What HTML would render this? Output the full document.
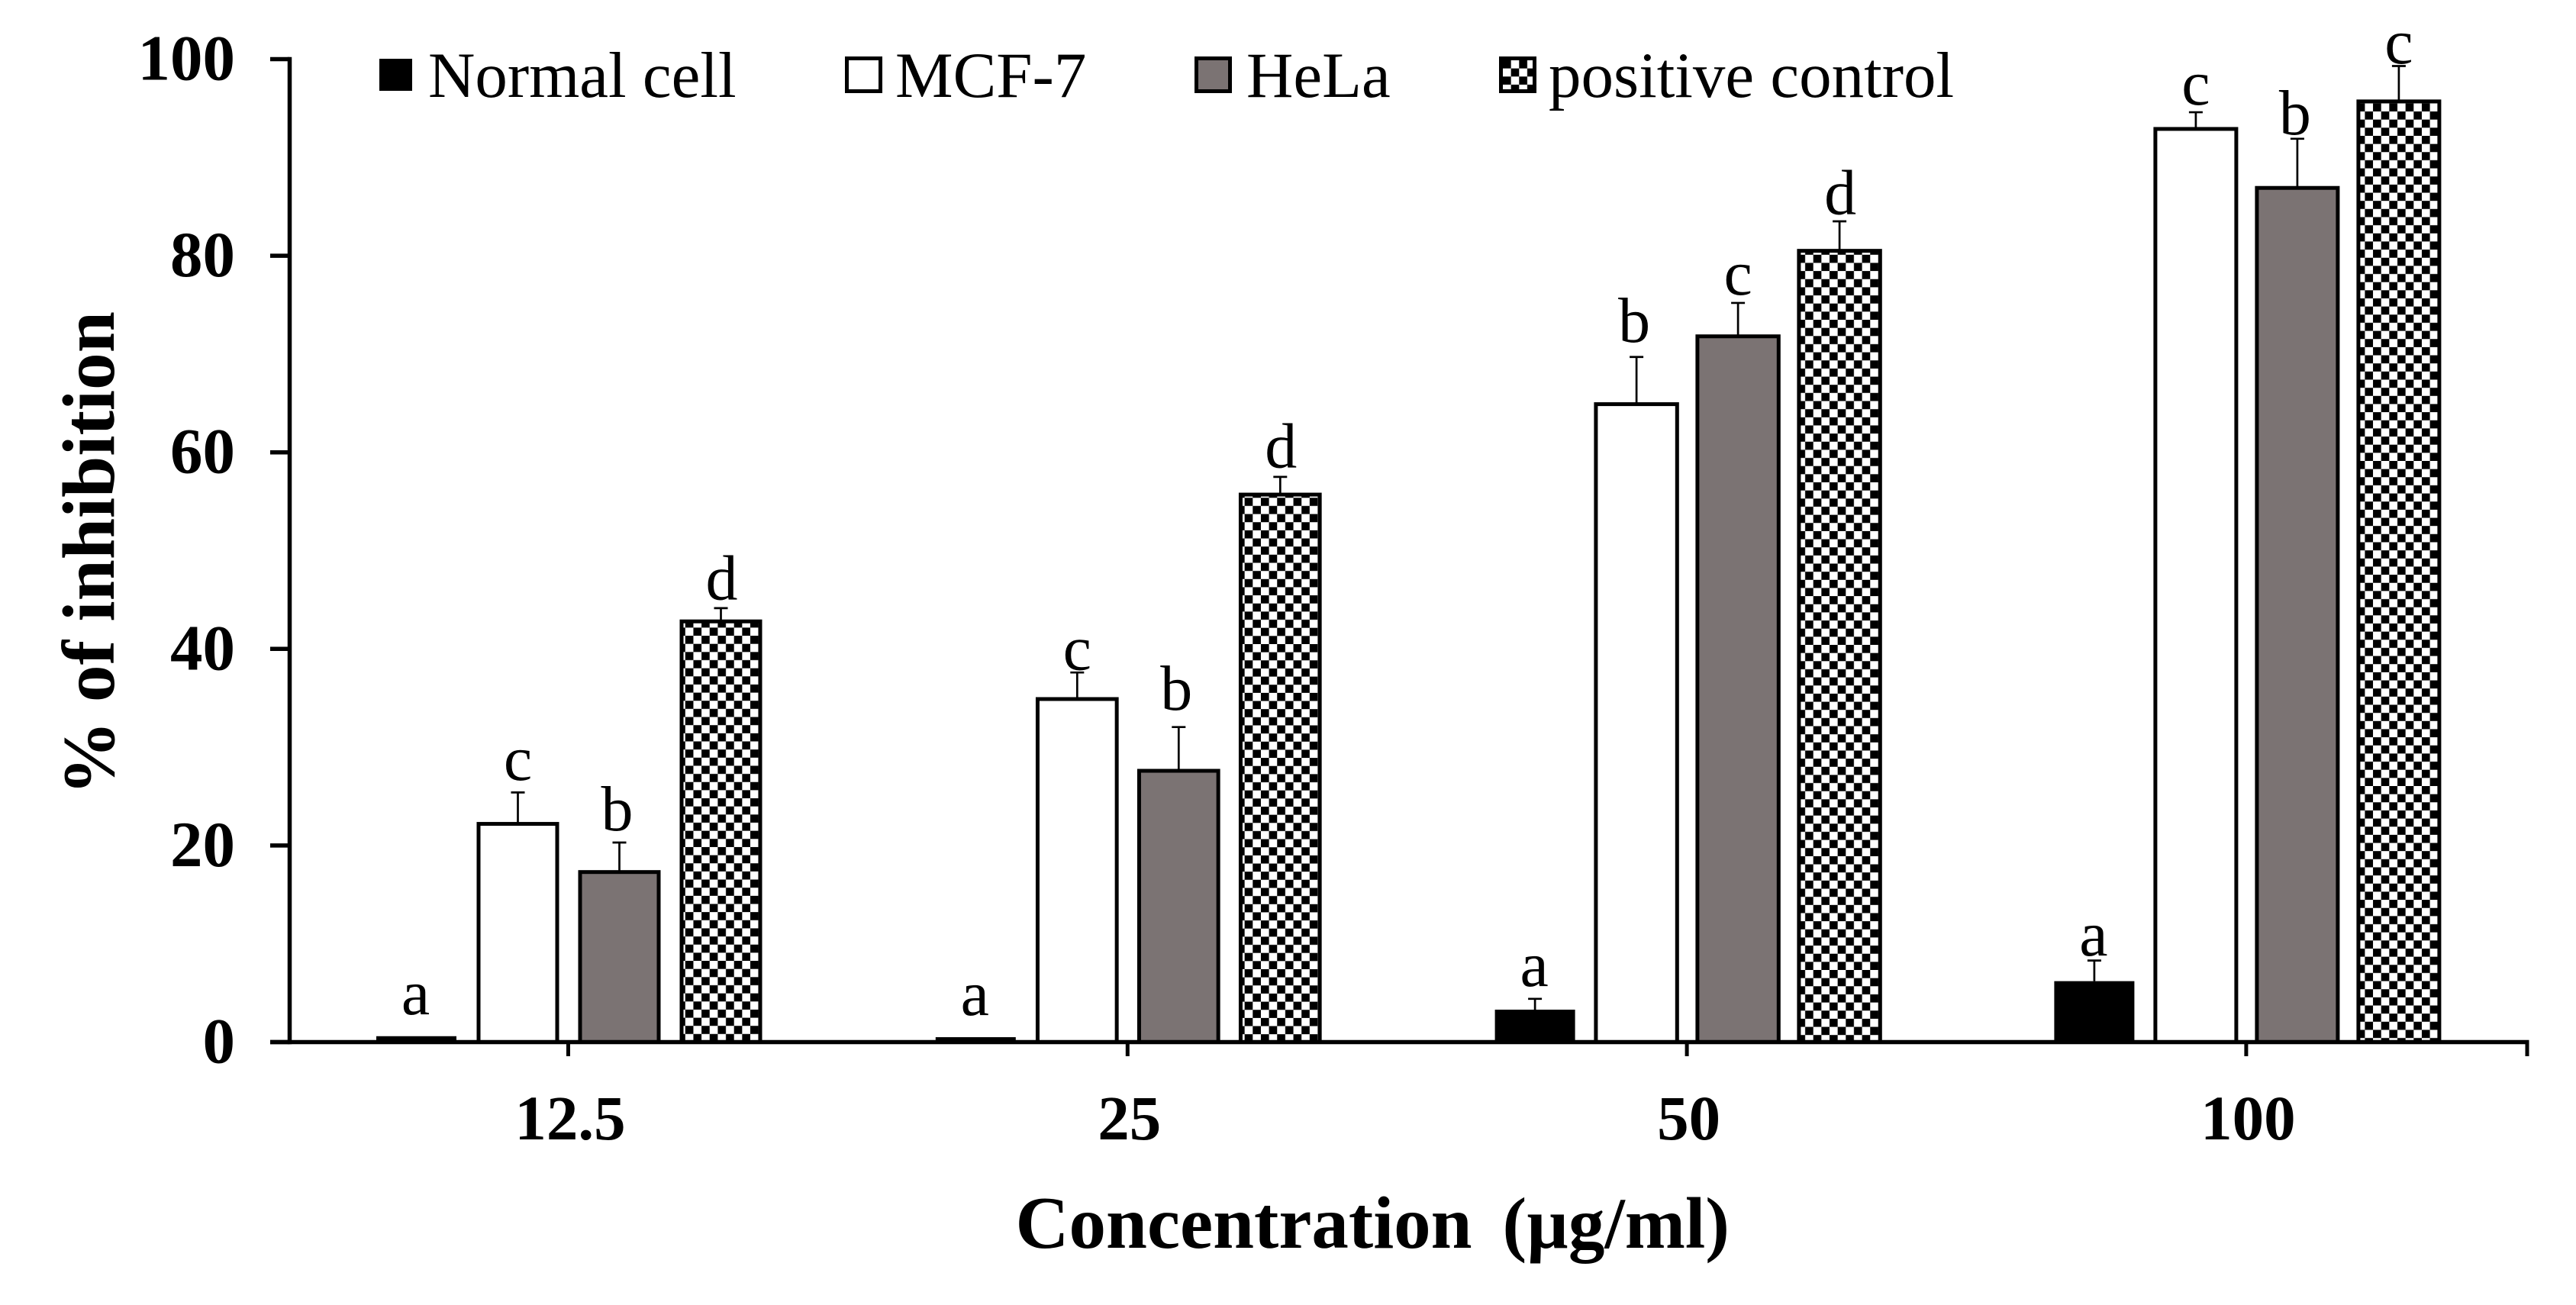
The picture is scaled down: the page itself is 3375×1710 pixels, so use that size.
<!DOCTYPE html>
<html lang="en">
<head>
<meta charset="utf-8">
<title>% of inhibition by concentration</title>
<style>
html,body{margin:0;padding:0;background:#fff;width:3375px;height:1710px;overflow:hidden}
svg{display:block}
text{font-family:"Liberation Serif",serif;fill:#000}
.bold{font-weight:bold}
</style>
</head>
<body>
<svg id="chart" xmlns="http://www.w3.org/2000/svg" width="3375" height="1710" viewBox="0 0 3375 1710">
  <defs id="defs">
    <pattern id="legend-check" patternUnits="userSpaceOnUse" x="1969" y="79" width="21.3" height="21.3">
      <rect width="21.3" height="21.3" fill="#fff"/>
      <rect width="10.65" height="10.65" fill="#000"/>
      <rect x="10.65" y="10.65" width="10.65" height="10.65" fill="#000"/>
    </pattern>
  </defs>
  <rect width="3375" height="1710" fill="#fff"/>
  <g id="bars"></g>
  <g id="axes"></g>
  <text class="bold" font-size="97.5" text-anchor="middle" transform="translate(149 725) rotate(-90)">% of inhibition</text>
  <text class="bold" y="1635"><tspan x="1330.5" font-size="97">Concentration</tspan><tspan x="1968.5" font-size="95">(µg/ml)</tspan></text>
  <g>
    <g>
      <rect x="497" y="77" width="43" height="42" fill="#000"/>
      <text x="561" y="127" font-size="85">Normal cell</text>
    </g>
    <g>
      <rect x="1109.5" y="76.5" width="44" height="43" fill="#fff" stroke="#000" stroke-width="5"/>
      <text x="1173" y="127" font-size="85">MCF-7</text>
    </g>
    <g>
      <rect x="1567.5" y="76.5" width="44" height="43" fill="#7b7373" stroke="#000" stroke-width="5"/>
      <text x="1633" y="127" font-size="85">HeLa</text>
    </g>
    <g>
      <rect x="1966.5" y="76.5" width="44" height="43" fill="url(#legend-check)" stroke="#000" stroke-width="5"/>
      <text x="2029" y="127" font-size="85">positive control</text>
    </g>
  </g>
</svg>
<script>
// ---- data ----
const categories = ['12.5', '25', '50', '100'];
const yTicks = [0, 20, 40, 60, 80, 100];

const seriesNames = ['normal-cell', 'mcf-7', 'hela', 'positive-control'];

const normalValues = [0.6, 0.5, 3.3, 6.2];
const mcfValues = [22.2, 34.9, 64.9, 92.9];
const helaValues = [17.3, 27.6, 71.8, 86.9];
const positiveValues = [42.8, 55.7, 80.5, 95.7];

const normalErrors = [0, 0, 1.1, 2.1];
const mcfErrors = [3.2, 2.7, 4.8, 1.7];
const helaErrors = [3.0, 4.45, 3.4, 5.0];
const positiveErrors = [1.35, 1.8, 3.0, 3.6];

const normalLetters = ['a', 'a', 'a', 'a'];
const mcfLetters = ['c', 'c', 'b', 'c'];
const helaLetters = ['b', 'b', 'c', 'b'];
const positiveLetters = ['d', 'd', 'd', 'c'];

// clearance between error cap and significance letter, in % units
const normalLift = [2.25, 2.25, 1.3, 0.5];
const mcfLift = [1.27, 0.3, 1.55, 0.78];
const helaLift = [1.25, 1.75, 0.85, 0.45];
const positiveLift = [0.9, 0.95, 0.72, 0.29];

const seriesValues = [normalValues, mcfValues, helaValues, positiveValues];
const seriesErrors = [normalErrors, mcfErrors, helaErrors, positiveErrors];
const seriesLetters = [normalLetters, mcfLetters, helaLetters, positiveLetters];
const seriesLift = [normalLift, mcfLift, helaLift, positiveLift];

// ---- axis functions ----
const SVGNS = 'http://www.w3.org/2000/svg';
const y0 = 1365.5, pxPerUnit = 12.88;
const firstCenter = 745, groupStep = 732.8, barStep = 133;
const axisX = 379.5, axisRight = 3311;
function yScale(v) { return y0 - pxPerUnit * v; }
function xCategory(i) { return firstCenter + groupStep * i; }
function xBar(i, s) { return xCategory(i) + (s - 1.5) * barStep; }

function make(tag, parent) {
  const el = document.createElementNS(SVGNS, tag);
  parent.appendChild(el);
  return el;
}
function setAll(el, props) {
  for (const k in props) el.setAttribute(k, props[k]);
}

const bars = document.getElementById('bars');
const axes = document.getElementById('axes');
const defs = document.getElementById('defs');
const cell = 10.65;
// appearance only: per-group outlined bar width and checker texture alignment
const outerWidth = [108, 108.7, 111.4, 111];
const checkShiftX = [7.3, 7.7, 0, 0.35];
const checkShiftY = [0, 6.7, 7.65, 5];
const letterNudge = { a: -1, b: -3, c: 0, d: 1 };

function fillFor(s, i, left, top) {
  if (s === 1) return '#fff';
  if (s === 2) return '#7b7373';
  const p = make('pattern', defs);
  setAll(p, { id: 'check-' + i, patternUnits: 'userSpaceOnUse', x: left + checkShiftX[i], y: top + checkShiftY[i], width: cell * 2, height: cell * 2 });
  const bg = make('rect', p);
  setAll(bg, { width: cell * 2, height: cell * 2, fill: '#fff' });
  const a = make('rect', p);
  setAll(a, { width: cell, height: cell, fill: '#000' });
  const b = make('rect', p);
  setAll(b, { x: cell, y: cell, width: cell, height: cell, fill: '#000' });
  return 'url(#check-' + i + ')';
}

seriesValues.forEach(function (vals, s) {
  vals.forEach(function (v, i) {
    const cx = xBar(i, s);
    const top = yScale(v);
    const bar = make('rect', bars);
    
    
    if (s === 0) {
      setAll(bar, { x: cx - 52.5, y: top, width: 105, height: Math.max(0, y0 - top), fill: '#000' });
    } else {
      const w = outerWidth[i];
      const outerLeft = cx - w / 2;
      setAll(bar, { x: outerLeft + 2.5, y: top, width: w - 5, height: Math.max(0, y0 - top), fill: fillFor(s, i, outerLeft, top - 2.5), stroke: '#000', 'stroke-width': 5 });
    }
    const err = seriesErrors[s][i];
    const capY = yScale(v + err);
    if (err > 0) {
      const stem = make('line', bars);
      
      
      setAll(stem, { x1: cx, x2: cx, y1: top, y2: capY, stroke: '#000', 'stroke-width': 2.7 });
      const cap = make('line', bars);
      
      
      setAll(cap, { x1: cx - 9, x2: cx + 9, y1: capY, y2: capY, stroke: '#000', 'stroke-width': 2.7 });
    }
    const letter = seriesLetters[s][i];
    const label = make('text', bars);
    
    
    setAll(label, { x: cx + letterNudge[letter], y: yScale(v + err + seriesLift[s][i]), 'font-size': 84, 'text-anchor': 'middle' });
    label.textContent = letter;
  });
});

// y axis
const yAxis = make('line', axes);


setAll(yAxis, { x1: axisX, x2: axisX, y1: yScale(100) - 2.75, y2: y0 + 2.75, stroke: '#000', 'stroke-width': 5.5 });

yTicks.forEach(function (t) {
  const tick = make('line', axes);
  
  
  setAll(tick, { x1: 354, x2: axisX, y1: yScale(t), y2: yScale(t), stroke: '#000', 'stroke-width': 5.5 });
  const lab = make('text', axes);
  
  
  setAll(lab, { x: 308, y: yScale(t) + 27, 'font-size': 85, 'font-weight': 'bold', 'text-anchor': 'end' });
  lab.textContent = t;
});

// x axis
const xAxis = make('line', axes);


setAll(xAxis, { x1: 354, x2: axisRight + 2.5, y1: y0, y2: y0, stroke: '#000', 'stroke-width': 5.5 });

categories.forEach(function (c, i) {
  const tx = xCategory(i) - 0.5;
  const tick = make('line', axes);
  
  
  setAll(tick, { x1: tx, x2: tx, y1: y0, y2: 1384, stroke: '#000', 'stroke-width': 5 });
  const lab = make('text', axes);
  
  
  setAll(lab, { x: xCategory(i) + 2, y: 1493, 'font-size': 83, 'font-weight': 'bold', 'text-anchor': 'middle' });
  lab.textContent = c;
});

const endTick = make('line', axes);


setAll(endTick, { x1: axisRight, x2: axisRight, y1: y0, y2: 1384, stroke: '#000', 'stroke-width': 5 });
</script>
</body>
</html>
